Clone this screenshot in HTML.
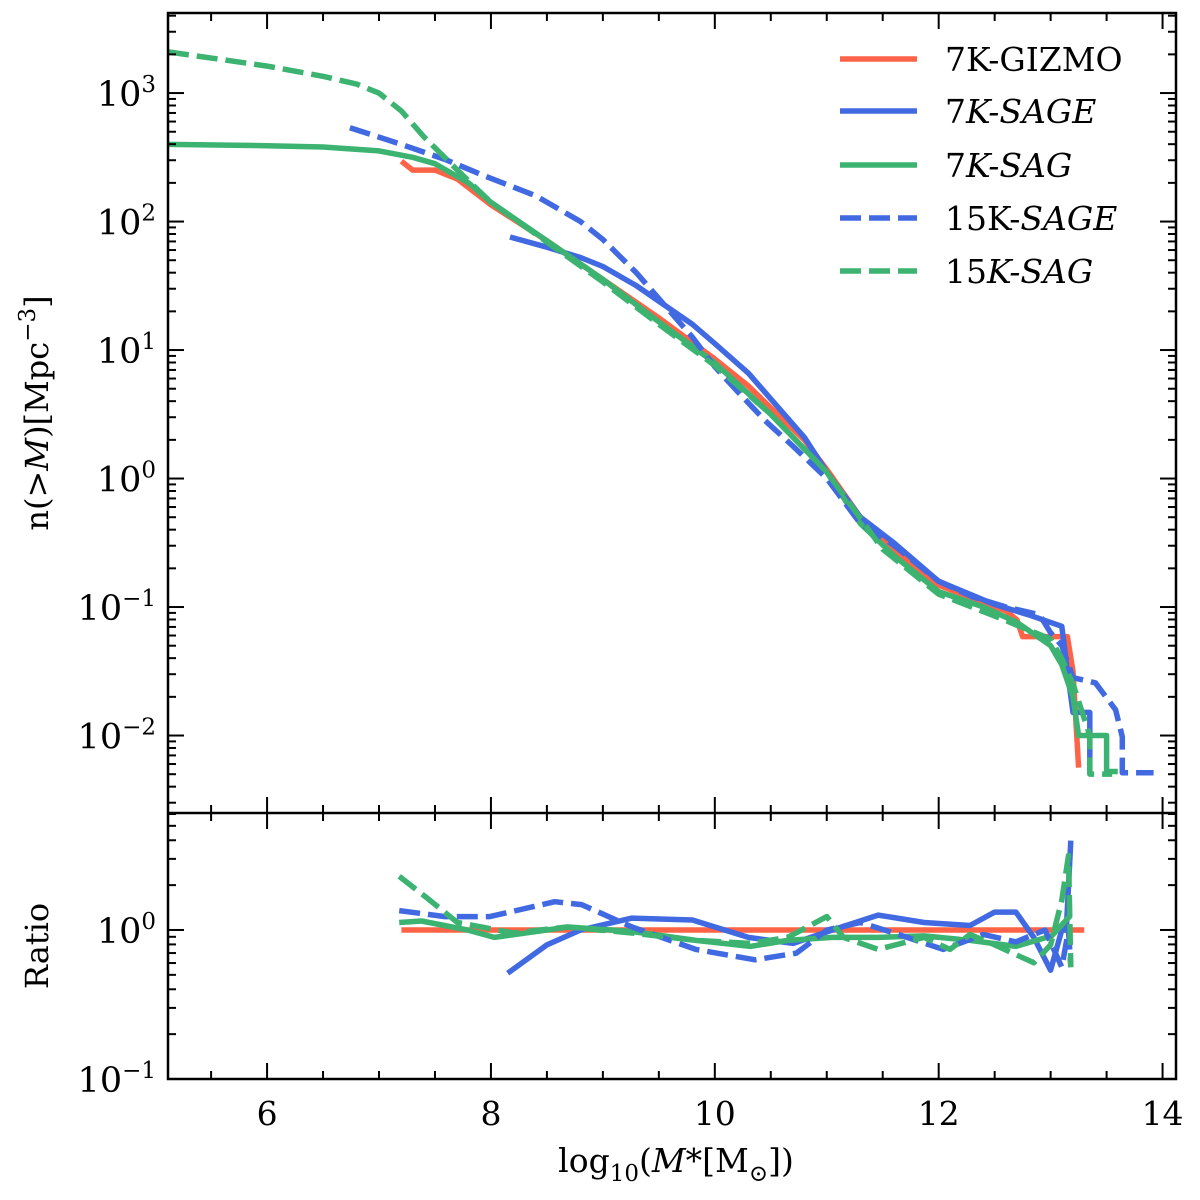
<!DOCTYPE html>
<html><head><meta charset="utf-8"><style>
html,body{margin:0;padding:0;background:#fff;}
svg{display:block;font-family:"DejaVu Serif","Liberation Serif",serif;}
</style></head><body>
<svg id="chart" width="1200" height="1200" viewBox="0 0 1200 1200" xmlns="http://www.w3.org/2000/svg">
<defs>
<clipPath id="c1"><rect x="168" y="13" width="1008" height="800"/></clipPath>
<clipPath id="c2"><rect x="168" y="813" width="1008" height="266"/></clipPath>
</defs>
<g id="plots"></g>
<g id="axes"></g>
</svg>
<script>
// ---- data (x = log10 M*, y = log10 value) ----
const gizmoX = [7.2,7.3,7.5,7.7,8,8.5,9,9.5,10,10.3,10.5,10.8,11,11.3,11.6,12,12.3,12.6,12.7,12.75,13.15,13.2,13.25];
const gizmoY = [2.47,2.40,2.40,2.33,2.13,1.85,1.55,1.25,0.93,0.72,0.55,0.3,0.07,-0.3,-0.55,-0.83,-0.93,-1.03,-1.1,-1.23,-1.23,-1.5,-2.25];
const sage7X = [8.17,8.5,8.8,9,9.3,9.5,9.8,10,10.3,10.5,10.8,11,11.3,11.6,12,12.5,12.8,13.1,13.15,13.2,13.35,13.35];
const sage7Y = [1.88,1.8,1.72,1.65,1.5,1.38,1.2,1.05,0.82,0.62,0.32,0.05,-0.3,-0.5,-0.8,-0.98,-1.06,-1.15,-1.5,-1.82,-1.82,-2.28];
const sag7X = [5.115,6,6.5,7,7.3,7.5,7.8,8,8.5,9,9.5,10,10.5,11,11.3,11.6,12,12.4,12.7,13.0,13.1,13.2,13.25,13.5,13.5,13.6];
const sag7Y = [2.60,2.59,2.58,2.55,2.5,2.45,2.3,2.15,1.85,1.55,1.22,0.9,0.5,0.05,-0.35,-0.6,-0.88,-1.0,-1.12,-1.3,-1.45,-1.7,-2.0,-2.0,-2.28,-2.28];
const sage15X = [6.74,7.2,7.6,7.93,8.4,8.8,9,9.3,9.5,9.8,10,10.2,10.45,10.7,11,11.3,11.6,12,12.3,12.6,12.9,13.0,13.1,13.2,13.4,13.4,13.58,13.58,13.64,13.64,13.92];
const sage15Y = [2.73,2.6,2.48,2.36,2.2,2.0,1.86,1.6,1.4,1.1,0.87,0.68,0.45,0.25,0.0,-0.35,-0.52,-0.8,-0.92,-1.0,-1.06,-1.2,-1.3,-1.55,-1.59,-1.59,-1.8,-1.8,-2.01,-2.29,-2.29];
const sag15X = [5.115,5.6,6,6.5,6.8,7,7.2,7.4,7.7,8,8.5,9,9.5,10,10.5,11,11.5,12,12.5,13,13.1,13.2,13.35,13.35,13.55];
const sag15Y = [3.32,3.26,3.21,3.13,3.07,3.0,2.86,2.66,2.40,2.15,1.84,1.53,1.2,0.88,0.5,0.05,-0.55,-0.9,-1.07,-1.25,-1.4,-1.6,-2.0,-2.3,-2.3];
// ratio panel (log10 ratio)
const rGizmoX = [7.2,13.3];
const rGizmoY = [0,0];
const rSage7X = [8.15,8.5,8.8,9.26,9.8,10.3,10.7,11.05,11.46,11.87,12.28,12.5,12.69,12.85,13.0,13.1,13.14,13.18];
const rSage7Y = [-0.29,-0.1,0,0.08,0.067,-0.05,-0.09,0,0.1,0.05,0.03,0.12,0.12,-0.05,-0.27,0,0,0.6];
const rSag7X = [7.18,7.38,7.79,8.03,8.69,9.26,9.83,10.32,10.65,11.05,11.46,11.87,12.28,12.69,13.01,13.18];
const rSag7Y = [0.05,0.06,0.0,-0.05,0.02,-0.01,-0.07,-0.11,-0.07,-0.05,-0.05,-0.04,-0.07,-0.11,-0.04,0.1];
const rSage15X = [7.18,7.59,7.99,8.57,8.81,9.26,9.83,10.36,10.73,11.0,11.3,11.6,12.04,12.4,12.69,12.95,13.1,13.16,13.18];
const rSage15Y = [0.13,0.09,0.09,0.19,0.17,0.02,-0.13,-0.20,-0.155,0,0.05,-0.02,-0.13,-0.03,-0.08,0.0,-0.25,0.0,-0.25];
const rSag15X = [7.18,7.42,7.70,8.2,8.68,9.26,9.83,10.32,10.65,11.0,11.15,11.46,11.87,12.1,12.28,12.5,12.85,13.0,13.1,13.16,13.18];
const rSag15Y = [0.36,0.22,0.05,-0.02,0.02,-0.02,-0.07,-0.09,-0.05,0.09,-0.05,-0.13,-0.05,-0.13,-0.03,-0.1,-0.22,-0.1,0.2,0.5,-0.25];
const xTicks = [6,8,10,12,14];
const mainYTicks = [-2,-1,0,1,2,3];
const ratioYTicks = [-1,0];
const legendLabels = ['7K-GIZMO','7K-SAGE','7K-SAG','15K-SAGE','15K-SAG'];

// ---- layout ----
const L=168,R=1176,T1=13,B1=813,B2=1079;
const xMin=5.115,xMax=14.12;
const y1Min=-2.603,y1Max=3.623;
const y2Min=-1,y2Max=0.785;
const sx=v=>L+(v-xMin)/(xMax-xMin)*(R-L);
const sy1=v=>B1-(v-y1Min)/(y1Max-y1Min)*(B1-T1);
const sy2=v=>B2-(v-y2Min)/(y2Max-y2Min)*(B2-B1);
const NS='http://www.w3.org/2000/svg';
const plots=document.getElementById('plots');
const axes=document.getElementById('axes');
function mk(tag,attrs,parent){const e=document.createElementNS(NS,tag);for(const k in attrs)e.setAttribute(k,attrs[k]);parent.appendChild(e);return e;}

const RED='#ff6347',BLUE='#4169e1',GREEN='#3cb371';
const series=[
 {x:gizmoX,y:gizmoY,c:RED,d:null,n:'line-7k-gizmo',p:1},
 {x:sage7X,y:sage7Y,c:BLUE,d:null,n:'line-7k-sage',p:1},
 {x:sag7X,y:sag7Y,c:GREEN,d:null,n:'line-7k-sag',p:1},
 {x:sage15X,y:sage15Y,c:BLUE,d:'21 8',n:'line-15k-sage',p:1},
 {x:sag15X,y:sag15Y,c:GREEN,d:'21 8',n:'line-15k-sag',p:1},
 {x:rGizmoX,y:rGizmoY,c:RED,d:null,n:'ratio-7k-gizmo',p:2},
 {x:rSage7X,y:rSage7Y,c:BLUE,d:null,n:'ratio-7k-sage',p:2},
 {x:rSag7X,y:rSag7Y,c:GREEN,d:null,n:'ratio-7k-sag',p:2},
 {x:rSage15X,y:rSage15Y,c:BLUE,d:'21 8',n:'ratio-15k-sage',p:2},
 {x:rSag15X,y:rSag15Y,c:GREEN,d:'21 8',n:'ratio-15k-sag',p:2}
];
series.forEach(s=>{
  const sy=s.p===1?sy1:sy2;
  const pts=s.x.map((v,i)=>sx(v).toFixed(1)+','+sy(s.y[i]).toFixed(1)).join(' ');
  const el=mk('polyline',{points:pts,fill:'none',stroke:s.c,'stroke-width':5.5,'stroke-linejoin':'round','clip-path':s.p===1?'url(#c1)':'url(#c2)'},plots);
  if(s.d)el.setAttribute('stroke-dasharray',s.d);
  
  
});

// ---- axes ----
function line(x1,y1,x2,y2,w){return mk('line',{x1,y1,x2,y2,stroke:'#000','stroke-width':w||2},axes);}
function text(x,y,str,size,anchor,name){const t=mk('text',{x,y,'font-size':size,'text-anchor':anchor||'middle',fill:'#000'},axes);t.innerHTML=str;return t;}
mk('rect',{x:L,y:T1,width:R-L,height:B2-T1,fill:'none',stroke:'#000','stroke-width':2.5},axes);
line(L,B1,R,B1,2.5);
for(let v=5.5;v<=14.1;v+=0.5){
  const major=Math.abs(v-Math.round(v/2)*2)<1e-6;
  const len=major?16:8;
  [T1,B1].forEach(y0=>line(sx(v),y0,sx(v),y0+len));
  [B1,B2].forEach(y0=>line(sx(v),y0,sx(v),y0-len));
}
xTicks.forEach(v=>text(sx(v),1125,String(v),33,'middle','x-tick-label-'+v));
function yTicks(sy,ymin,ymax,labels,prefix){
  for(let d=Math.floor(ymin);d<=Math.ceil(ymax);d++){
    for(let m=1;m<=9;m++){
      const v=d+Math.log10(m); if(v<ymin||v>ymax)continue;
      const len=m===1?16:8;
      line(L,sy(v),L+len,sy(v)); line(R,sy(v),R-len,sy(v));
    }
  }
  labels.forEach(v=>{
    text(L-12,sy(v)+13,'10<tspan dy="-14" font-size="23">'+(v<0?'\u2212'+(-v):v)+'</tspan>',35,'end',prefix+v);
  });
}
yTicks(sy1,y1Min,y1Max,mainYTicks,'y-tick-label-');
yTicks(sy2,y2Min,y2Max,ratioYTicks,'ratio-tick-label-');
let t=text(0,0,'n(&gt;<tspan font-style="italic">M</tspan>)[Mpc<tspan dy="-13" font-size="23">\u22123</tspan><tspan dy="13">]</tspan>',32,'middle','y-axis-title');
t.setAttribute('transform','translate(48,413) rotate(-90)');
t=text(0,0,'Ratio',32,'middle','ratio-axis-title');
t.setAttribute('transform','translate(48,946) rotate(-90)');
text(676,1172,'log<tspan dy="9" font-size="23">10</tspan><tspan dy="-9">(</tspan><tspan font-style="italic">M</tspan>*[M<tspan dy="9" font-size="23">\u2299</tspan><tspan dy="-9">])</tspan>',33,'middle','x-axis-title');

// ---- legend ----
const legendYs=[59,111,165,218,271];
const legendHtml=['7K-GIZMO','7<tspan font-style="italic">K-SAGE</tspan>','7<tspan font-style="italic">K-SAG</tspan>','15K-<tspan font-style="italic">SAGE</tspan>','15<tspan font-style="italic">K-SAG</tspan>'];
const lg=mk('g',{},axes);


series.slice(0,5).forEach((s,i)=>{
  const y=legendYs[i];
  const l=mk('line',{x1:840,y1:y,x2:917,y2:y,stroke:s.c,'stroke-width':5.5},lg);
  if(s.d)l.setAttribute('stroke-dasharray','21 8');
  
  
  const tx=mk('text',{x:945,y:y+12,'font-size':33,fill:'#000'},lg);
  tx.innerHTML=legendHtml[i];
  
  
});
</script>
</body></html>
